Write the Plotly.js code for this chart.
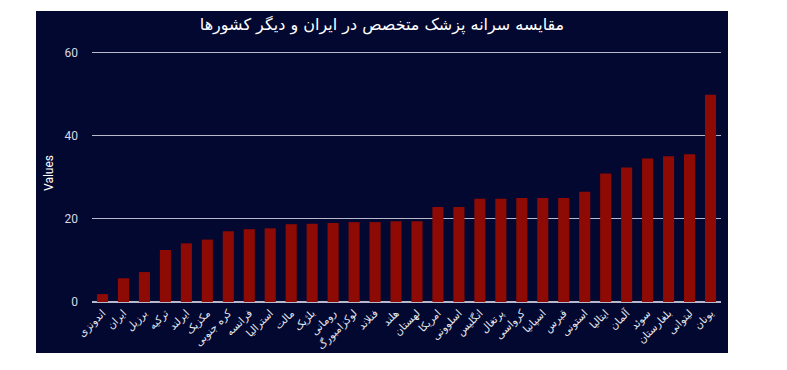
<!DOCTYPE html>
<html>
<head>
<meta charset="utf-8">
<script src="https://cdn.plot.ly/plotly-3.0.1.min.js"></script>
<style>
html,body{margin:0;padding:0;background:#ffffff;width:787px;height:370px;overflow:hidden;}
#chart{position:absolute;left:36px;top:11px;width:692px;height:342px;}
</style>
</head>
<body>
<div id="chart"></div>
<script>
const countries = ["اندونزی","ایران","برزیل","ترکیه","ایرلند","مکزیک","کره جنوبی","فرانسه","استرالیا","مالت","بلژیک","رومانی","لوکزامبورگ","فنلاند","هلند","لهستان","امریکا","اسلوونی","انگلیس","پرتغال","کرواسی","اسپانیا","قبرس","استونی","ایتالیا","آلمان","سوئد","بلغارستان","لیتوانی","یونان"];
const values = [1.9,5.7,7.2,12.5,14.1,15.0,17.0,17.5,17.7,18.7,18.8,19.0,19.2,19.2,19.4,19.4,22.8,22.8,24.8,24.8,25.0,25.0,25.0,26.5,30.9,32.3,34.5,35.0,35.5,49.8];
const chartTitle = "مقایسه سرانه پزشک متخصص در ایران و دیگر کشورها";
const yTitle = "Values";

Plotly.newPlot("chart", [{
  type: "bar",
  x: countries,
  y: values,
  marker: {color: "#8e0a04"},
  hoverinfo: "x+y"
}], {
  width: 692, height: 342,
  paper_bgcolor: "#030830",
  plot_bgcolor: "#030830",
  margin: {l: 56, r: 7, t: 33, b: 51},
  bargap: 0.47,
  title: {text: chartTitle, x: 0.5, xanchor: "center", y: 0.96, yanchor: "middle",
          font: {family: "DejaVu Sans, Noto Sans, sans-serif", size: 16, color: "#ffffff"}},
  xaxis: {
    tickangle: -45, automargin: false, showgrid: false, zeroline: false,
    ticklabelstandoff: 2,
    tickfont: {family: "DejaVu Sans, sans-serif", size: 10.5, color: "#e8e8f0"},
    ticks: ""
  },
  yaxis: {
    range: [0, 62], automargin: false,
    tickvals: [0, 20, 40, 60],
    ticklabelstandoff: 13,
    gridcolor: "#b8b8cc", gridwidth: 1.2,
    zeroline: true, zerolinecolor: "#b8b8cc", zerolinewidth: 1.2,
    tickfont: {family: "Roboto, sans-serif", size: 12, color: "#d8d8e4"},
    title: {text: yTitle, standoff: 8, font: {family: "Roboto, sans-serif", size: 12, color: "#ffffff"}}
  },
  showlegend: false
}, {displayModeBar: false, staticPlot: true});
</script>
</body>
</html>
